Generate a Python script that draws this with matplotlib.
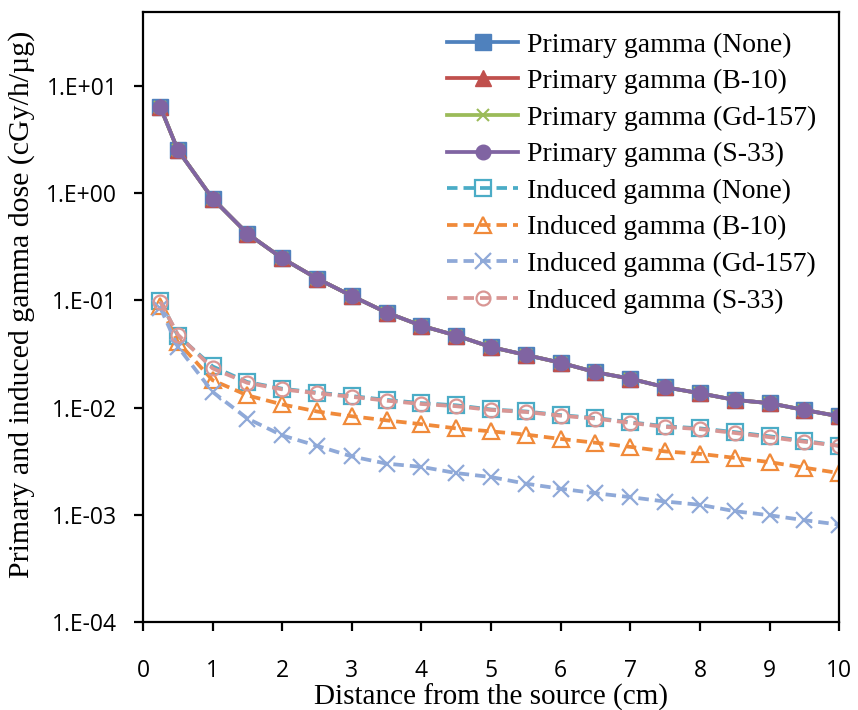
import matplotlib
matplotlib.use("Agg")
import matplotlib.pyplot as plt
from matplotlib.ticker import FixedLocator, NullLocator

distance = [0.25, 0.5, 1, 1.5, 2, 2.5, 3, 3.5, 4, 4.5, 5, 5.5, 6, 6.5, 7, 7.5, 8, 8.5, 9, 9.5, 10]

primary_none = [6.33, 2.53, 0.89, 0.42, 0.247, 0.16, 0.110, 0.077, 0.058, 0.047, 0.0367, 0.031, 0.0262,
                0.0214, 0.0186, 0.0155, 0.0136, 0.0118, 0.0110, 0.0095, 0.0083]
primary_b10 = list(primary_none)
primary_gd157 = list(primary_none)
primary_s33 = list(primary_none)

induced_none = [0.098, 0.047, 0.0242, 0.0173, 0.0150, 0.0138, 0.0128, 0.0118, 0.0110, 0.0105, 0.0096,
                0.0092, 0.0085, 0.0080, 0.0073, 0.0067, 0.0064, 0.0059, 0.0054, 0.0049, 0.0044]
induced_b10 = [0.088, 0.041, 0.018, 0.013, 0.0107, 0.0092, 0.0083, 0.0076, 0.0070, 0.0064, 0.0060,
               0.0056, 0.0051, 0.0047, 0.0043, 0.0039, 0.0037, 0.0034, 0.0031, 0.00275, 0.00245]
induced_gd157 = [0.085, 0.037, 0.014, 0.0079, 0.0055, 0.0044, 0.0035, 0.0030, 0.0028, 0.00245, 0.00225,
                 0.00195, 0.00175, 0.00159, 0.00146, 0.00133, 0.00124, 0.00108, 0.00099, 0.00089, 0.00081]
induced_s33 = [0.097, 0.048, 0.0232, 0.0170, 0.0148, 0.0136, 0.0126, 0.0116, 0.0108, 0.0103, 0.0095,
               0.0091, 0.0084, 0.0079, 0.0072, 0.0066, 0.0063, 0.0058, 0.0053, 0.0048, 0.0044]

labels = ["Primary gamma (None)", "Primary gamma (B-10)", "Primary gamma (Gd-157)", "Primary gamma (S-33)",
          "Induced gamma (None)", "Induced gamma (B-10)", "Induced gamma (Gd-157)", "Induced gamma (S-33)"]
x_ticks = [0, 1, 2, 3, 4, 5, 6, 7, 8, 9, 10]
y_ticks = [1e-4, 1e-3, 1e-2, 1e-1, 1e0, 1e1]
y_tick_labels = ["1.E-04", "1.E-03", "1.E-02", "1.E-01", "1.E+00", "1.E+01"]
x_label = "Distance from the source (cm)"
y_label = "Primary and induced gamma dose (cGy/h/\u00b5g)"

W, H = 858, 710
fig = plt.figure(figsize=(W / 100, H / 100), dpi=100)
ax = fig.add_axes([0.1667, 0.124, 0.8113, 0.859])

serif = "Liberation Serif"
sans = "Open Sans"
dash = (0, (2.8, 1.6))

series = [
    (primary_none, dict(color="#4F81BD", marker="s", ms=11, ls="-")),
    (primary_b10, dict(color="#C0504D", marker="^", ms=11, ls="-")),
    (primary_gd157, dict(color="#9BBB59", marker="x", ms=8, mew=1.5, ls="-")),
    (primary_s33, dict(color="#8064A2", marker="o", ms=10.5, ls="-")),
    (induced_none, dict(color="#4BACC6", marker="s", ms=11, ls=dash, mfc="none", mew=1.6)),
    (induced_b10, dict(color="#F08A3A", marker="^", ms=11, ls=dash, mfc="none", mew=1.6)),
    (induced_gd157, dict(color="#8FA9D8", marker="x", ms=11, ls=dash, mew=1.6)),
    (induced_s33, dict(color="#D99694", marker="o", ms=10, ls=dash, mfc="none", mew=1.6)),
]
for (vals, kw), lab in zip(series, labels):
    ax.plot(distance, vals, lw=2.7, label=lab, **kw)

ax.set_yscale("log")
ax.set_ylim(1e-4, 49)
ax.set_xlim(0, 10)
ax.yaxis.set_major_locator(FixedLocator(y_ticks))
ax.yaxis.set_minor_locator(NullLocator())
ax.set_yticks(y_ticks)
ax.set_yticklabels(y_tick_labels, fontfamily=sans, fontsize=16.5)
ax.set_xticks(x_ticks)
ax.set_xticklabels([str(t) for t in x_ticks], fontfamily=sans, fontsize=16.5)
ax.tick_params(axis="both", direction="out", length=6.5, width=1.6, colors="black")
ax.tick_params(axis="x", pad=20)
ax.tick_params(axis="y", pad=12)
for s in ax.spines.values():
    s.set_linewidth(1.6)
    s.set_color("black")

ax.set_ylabel(y_label, fontfamily=serif, fontsize=21.5)
ax.yaxis.set_label_coords(-0.155, 0.521)

leg = ax.legend(loc="upper left", frameon=False, prop={"family": serif, "size": 20},
                handlelength=2.55, handletextpad=0.32, labelspacing=0.4,
                borderpad=0, borderaxespad=0, bbox_to_anchor=(0.437, 0.967))

# place the x label just below the tick labels
fig.canvas.draw()
r = fig.canvas.get_renderer()
tick_bottom = min(t.get_window_extent(r).y0 for t in ax.get_xticklabels())
fig.text(0.5 * (ax.get_position().x0 + ax.get_position().x1), (tick_bottom - 1) / H, x_label,
         ha="center", va="top", fontfamily=serif, fontsize=21)

fig.savefig("out.png", dpi=100)
